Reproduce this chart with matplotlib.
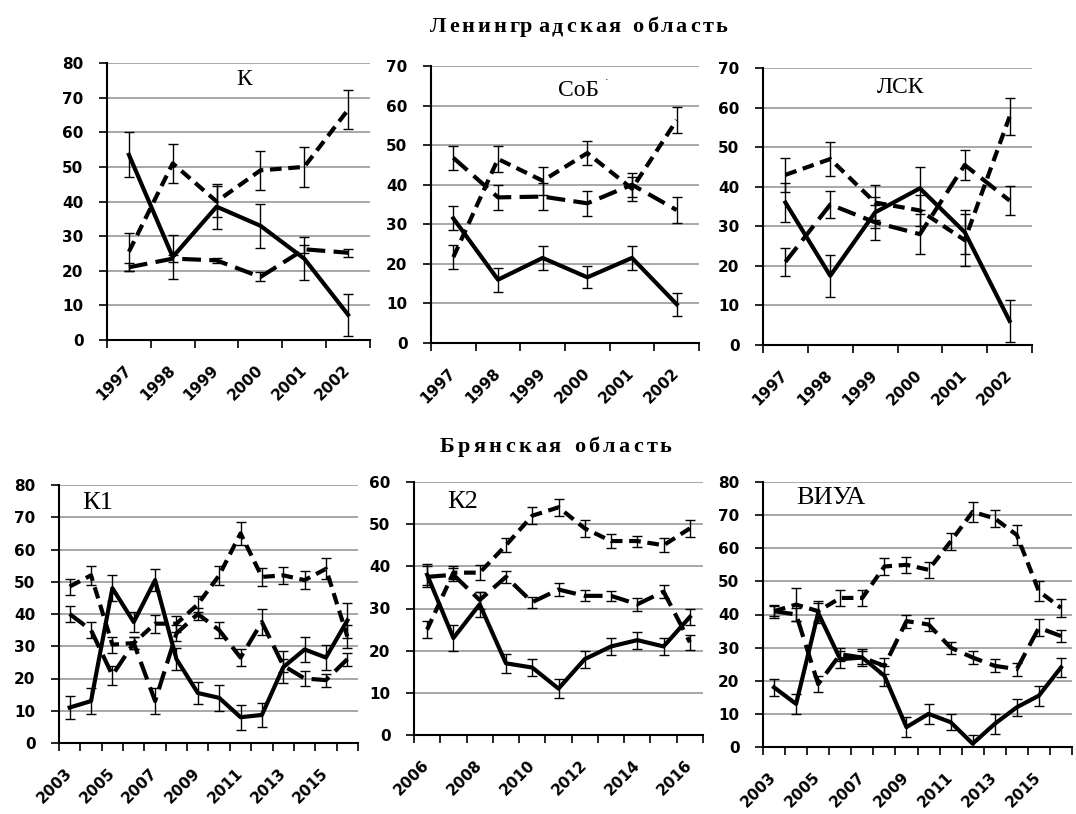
import matplotlib
matplotlib.use("Agg")
import matplotlib.pyplot as plt
from matplotlib.transforms import ScaledTranslation

# ---- data ----
LEN_YEARS = ["1997", "1998", "1999", "2000", "2001", "2002"]
BR_YEARS = [str(y) for y in range(2003, 2017)]
K2_YEARS = [str(y) for y in range(2006, 2017)]

K_SOLID = [53.5, 24, 38.5, 33, 23.5, 7.3]
K_SOLID_ERR = [6.5, 6.4, 6.5, 6.3, 6.2, 6.1]
K_LONG = [21, 23.5, 23, 18.2, 26.2, 25.2]
K_LONG_ERR = [1.2, 1.0, 0.8, 1.3, 1.2, 1.2]
K_SHORT = [25.5, 51, 40, 49, 50, 66.5]
K_SHORT_ERR = [5.5, 5.7, 4.5, 5.7, 5.7, 5.7]

SOB_SOLID = [31.5, 16, 21.5, 16.6, 21.5, 9.8]
SOB_SOLID_ERR = [3, 3, 3, 2.8, 3, 2.9]
SOB_LONG = [46.8, 36.8, 37, 35.3, 40, 33.6]
SOB_LONG_ERR = [3, 3.2, 3.5, 3.2, 3, 3.3]
SOB_SHORT = [21.7, 46.5, 41, 48, 39, 56.3]
SOB_SHORT_ERR = [3.1, 3.2, 3.5, 3, 3, 3.3]

LSK_SOLID = [36, 17.5, 33.5, 39.6, 28.5, 6.1]
LSK_SOLID_ERR = [5, 5.3, 4, 5.5, 5.5, 5.3]
LSK_LONG = [21, 35.5, 31, 28, 45.5, 36.5]
LSK_LONG_ERR = [3.5, 3.5, 4.5, 5, 3.7, 3.6]
LSK_SHORT = [43, 47, 36, 34, 26.5, 57.7]
LSK_SHORT_ERR = [4.3, 4.4, 4.5, 4, 6.5, 4.6]

K1_SOLID = [11, 13, 48, 37.5, 50.5, 26, 15.5, 14, 8, 8.7, 23.5, 29, 26.5, 38]
K1_SOLID_ERR = [3.5, 4, 4, 3, 3.5, 3.5, 3.3, 4, 3.9, 3.6, 5, 3.9, 4, 5.4]
K1_LONG = [40, 35, 21, 31, 13, 34, 40, 35, 26.5, 37.5, 24, 20, 19.5, 26]
K1_LONG_ERR = [2.5, 2.5, 3, 2, 4, 2.5, 2, 2.5, 2.5, 4, 2, 2.2, 2, 2]
K1_SHORT = [48.5, 52, 30.5, 31, 37, 37, 43, 52, 65, 51.5, 52, 50.5, 54, 33]
K1_SHORT_ERR = [2.5, 3, 2.5, 2, 2.8, 2.5, 2.5, 3, 3.5, 2.7, 2.7, 2.7, 3.3, 3.5]

K2_SOLID = [38, 23, 31, 17, 16, 11, 18, 21, 22.5, 21, 28]
K2_SOLID_ERR = [2.5, 3, 3, 2.3, 2, 2.2, 2, 2, 2, 2, 2]
K2_LONG = [37.5, 38, 32, 37.5, 31.5, 34.5, 33, 33, 31, 34, 22]
K2_LONG_ERR = [2.5, 1.5, 2, 1.5, 1.3, 1.5, 1.3, 1.2, 1.5, 1.5, 1.8]
K2_SHORT = [25, 38.5, 38.5, 45, 52, 54, 49, 46, 46, 45, 49]
K2_SHORT_ERR = [2, 1.5, 1.7, 1.7, 2, 2, 2, 1.7, 1.3, 1.7, 2]

VIUA_SOLID = [18, 13, 40.5, 26.5, 27, 21.5, 6, 10, 7.5, 1, 7, 12, 15.5, 24]
VIUA_SOLID_ERR = [2.5, 3, 3, 2.5, 2.5, 3, 3, 3, 2.5, 2.5, 3, 2.5, 3, 3]
VIUA_LONG = [41, 40, 19, 28, 27, 24.5, 38, 37, 30, 27, 24.5, 23.5, 36, 33.5]
VIUA_LONG_ERR = [1.5, 2, 2.5, 2, 2, 2.5, 2, 2, 1.8, 2, 2, 2, 2.5, 1.7]
VIUA_SHORT = [41, 43, 41, 45, 45, 54.5, 55, 53.5, 62, 71, 69, 64, 47, 42]
VIUA_SHORT_ERR = [2, 5, 3, 2.5, 2.5, 2.5, 2.5, 2.5, 2.5, 3, 2.5, 3, 3, 2.7]

W, H = 1076, 814
TICK_FONT = dict(family="DejaVu Sans", weight="bold", size=11)
SERIF = "Liberation Serif"

fig = plt.figure(figsize=(W / 100, H / 100), dpi=100)
renderer = fig.canvas.get_renderer()


def px_axes(x0, y0, x1, y1):
    return fig.add_axes([x0 / W, 1 - y1 / H, (x1 - x0) / W, (y1 - y0) / H])


def text_width(s, **kw):
    t = fig.text(0, 0, s, **kw)
    w = t.get_window_extent(renderer).width
    t.remove()
    return w


def spaced_title(xc, yc, s, spacing, **kw):
    # draw the title letter by letter with extra tracking, like the original
    dot = text_width(".", **kw)
    lefts = [text_width(s[:i] + ".", **kw) - dot + i * spacing if i else 0.0 for i in range(len(s))]
    total = text_width(s, **kw) + (len(s) - 1) * spacing
    x0 = xc - total / 2
    for ch, lx in zip(s, lefts):
        if ch != " ":
            fig.text((x0 + lx) / W, 1 - yc / H, ch, ha="left", va="center", **kw)


def panel(box, years, series, ymax, label, lab_pos, lab_size, every=1):
    ax = px_axes(*box)
    n = len(years)
    x = list(range(n))
    styles = [(0, (4.5, 2.0)), (0, (2.8, 1.6)), "-"]
    for (y, e), ls in zip(series, styles):
        ax.plot(x, y, color="black", lw=3, ls=ls, solid_joinstyle="round",
                dash_capstyle="butt", zorder=3)
        ax.errorbar(x, y, yerr=e, fmt="none", ecolor="black", elinewidth=1,
                    capsize=3.5, capthick=1, zorder=4)
    ax.set_xlim(-0.5, n - 0.5)
    ax.set_ylim(0, ymax)
    ax.set_xticks([i - 0.5 for i in range(n + 1)])
    ax.set_xticklabels([])
    ax.set_xticks(x[::every], minor=True)
    ax.set_xticklabels(years[::every], minor=True, rotation=45, ha="right",
                       va="center", rotation_mode="anchor", fontdict=TICK_FONT)
    for lab in ax.get_xticklabels(minor=True):
        lab.set_transform(lab.get_transform() + ScaledTranslation(2 / 100, 0, fig.dpi_scale_trans))
    ax.tick_params(axis="x", which="major", length=6, width=1.2, direction="out")
    ax.tick_params(axis="x", which="minor", length=0, pad=20)
    ax.set_yticks(range(0, ymax + 1, 10))
    ax.set_yticklabels([str(v) for v in range(0, ymax + 1, 10)], fontdict=TICK_FONT)
    ax.tick_params(axis="y", length=6, width=1.2, pad=11)
    ax.yaxis.grid(True, color="#a0a0a0", lw=1.3)
    ax.set_axisbelow(True)
    for s in ("top", "right"):
        ax.spines[s].set_visible(False)
    for s in ("left", "bottom"):
        ax.spines[s].set_linewidth(1.5)
    ax.text(*lab_pos, label, transform=ax.transAxes, ha="center", va="center",
            family=SERIF, fontsize=lab_size)
    return ax


panel((107, 63, 370, 340), LEN_YEARS,
      [(K_LONG, K_LONG_ERR), (K_SHORT, K_SHORT_ERR), (K_SOLID, K_SOLID_ERR)],
      80, "К", (0.52, 0.94), 17)
ax2 = panel((431, 66, 699, 343), LEN_YEARS,
            [(SOB_LONG, SOB_LONG_ERR), (SOB_SHORT, SOB_SHORT_ERR), (SOB_SOLID, SOB_SOLID_ERR)],
            70, "СоБ", (0.55, 0.91), 17)
ax2.text(0.655, 0.95, "·", transform=ax2.transAxes, ha="center", va="center", fontsize=8)
panel((763, 68, 1032, 345), LEN_YEARS,
      [(LSK_LONG, LSK_LONG_ERR), (LSK_SHORT, LSK_SHORT_ERR), (LSK_SOLID, LSK_SOLID_ERR)],
      70, "ЛСК", (0.51, 0.93), 17)

panel((59, 485, 358, 743), BR_YEARS,
      [(K1_LONG, K1_LONG_ERR), (K1_SHORT, K1_SHORT_ERR), (K1_SOLID, K1_SOLID_ERR)],
      80, "К1", (0.13, 0.93), 19, every=2)
panel((414, 482, 703, 735), K2_YEARS,
      [(K2_LONG, K2_LONG_ERR), (K2_SHORT, K2_SHORT_ERR), (K2_SOLID, K2_SOLID_ERR)],
      60, "К2", (0.17, 0.92), 19, every=2)
panel((763, 482, 1072, 747), BR_YEARS,
      [(VIUA_LONG, VIUA_LONG_ERR), (VIUA_SHORT, VIUA_SHORT_ERR), (VIUA_SOLID, VIUA_SOLID_ERR)],
      80, "ВИУА", (0.22, 0.94), 19, every=2)

title_kw = dict(family=SERIF, weight="bold", fontsize=16)
spaced_title(579, 27, "Ленинградская область", 3.0, **title_kw)
spaced_title(556, 447, "Брянская область", 3.5, **title_kw)

fig.savefig("out.png", dpi=100)
